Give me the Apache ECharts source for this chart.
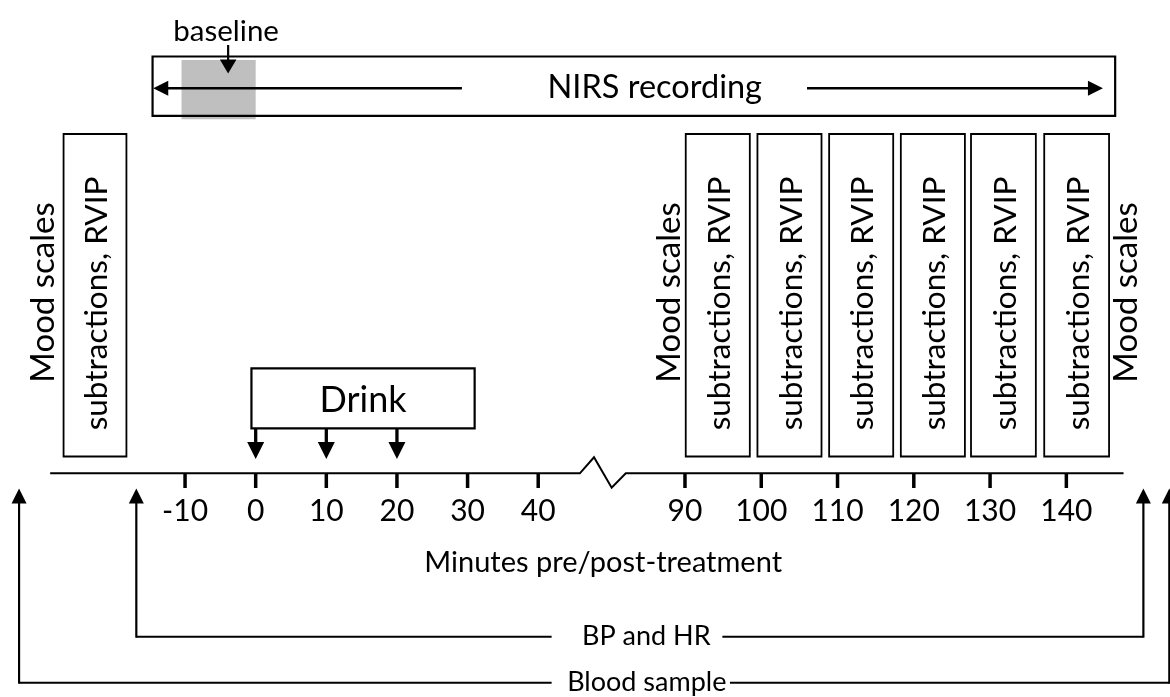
<!DOCTYPE html>
<html>
<head>
<meta charset="utf-8">
<title>Study timeline</title>
<script src="https://cdn.jsdelivr.net/npm/echarts@6/dist/echarts.min.js"></script>
<style>
  html, body { margin: 0; padding: 0; background: #fff; }
  #timeline { width: 1170px; height: 697px; }
</style>
</head>
<body>
<div id="timeline"></div>
<script>
// timeline data, minutes relative to the first drink
const tickMinutes = [-10, 0, 10, 20, 30, 40, 90, 100, 110, 120, 130, 140];
const tickLabels = ['-10', '0', '10', '20', '30', '40', '90', '100', '110', '120', '130', '140'];
const drinkDoses = [0, 10, 20];
const drinkWindow = [-0.6, 31.0];
const baselineWindow = [-10.5, 0];
const baselineMark = [-3.9];
const nirsWindow = [-14.6, 146.4];
const taskWindows = [[-27.2, -18.3], [90.1, 98.5], [99.5, 107.9], [108.9, 117.3], [118.3, 126.7], [127.5, 136.0], [137.1, 145.6]];
const moodMinutes = [-30.1, 88.0, 147.9];
const bpMinutes = [-16.9, 150.1];
const bloodMinutes = [-33.5, 153.5];
const measureLabels = ['BP and HR', 'Blood sample'];

// layout (rows are pixel rows, columns in axis units)
const L = {
  baseTextY: 31, baseArrowTop: 45, baseArrowTip: 73.5,
  nirsTop: 56.5, nirsBot: 115.8, nirsArrowY: 88.3, grayTop: 60, grayBot: 119.3,
  nirsLeftTip: -14.5, nirsLeftTail: 29.2, nirsRightTail: 106.0, nirsRightTip: 144.8, nirsTextX: 56.5,
  taskTop: 134, taskBot: 456.5, moodY: 292.5, taskTextY: 303.5,
  drinkTop: 368.3, drinkBot: 428.3, drinkTextY: 400, drinkTip: 459,
  axisY: 473.3, tickEnd: 488, tickLabelY: 511, axisStart: -29.1, axisEnd: 147.5,
  breakPts: [[45.9, 0], [47.9, -16], [50.4, 14.4], [52.4, 0]],
  titleX: 49.2, titleY: 563,
  rowY: [636.7, 682.7], arrowTip: 488.5,
  lineEndL: 41.9, lineStartR: [94.9, 95.9], textX: [46.2, 44.1]
};

// the axis is broken between 40 and 90 min; the right piece is drawn a bit wider
const POST_START = 60.78;
const POST_SCALE = 1.0799;
function tx(m) { return m < 65 ? m : POST_START + (m - 90) * POST_SCALE; }

const INK = '#000';
const FONT = 'Lato';

function pt(api, m, y) { return api.coord([tx(m), y]); }

function label(x, y, text, size, extra) {
  return Object.assign({
    type: 'text', x: x, y: y,
    style: { text: text, fill: INK, fontSize: size, fontFamily: FONT, align: 'center', verticalAlign: 'middle' }
  }, extra || {});
}

function line(a, b, w) {
  return { type: 'line', shape: { x1: a[0], y1: a[1], x2: b[0], y2: b[1] }, style: { stroke: INK, lineWidth: w } };
}

// shaft from a to b, head at b
function arrow(a, b, w, len, half) {
  const dx = b[0] - a[0], dy = b[1] - a[1];
  const d = Math.hypot(dx, dy), ux = dx / d, uy = dy / d;
  const bx = b[0] - ux * len, by = b[1] - uy * len;
  return [
    line(a, [bx + ux, by + uy], w),
    { type: 'polygon', shape: { points: [[b[0], b[1]], [bx - uy * half, by + ux * half], [bx + uy * half, by - ux * half]] }, style: { fill: INK } }
  ];
}

function box(p0, p1, w) {
  return {
    type: 'rect',
    shape: { x: p0[0], y: p0[1], width: p1[0] - p0[0], height: p1[1] - p0[1] },
    style: { fill: 'none', stroke: INK, lineWidth: w }
  };
}

const chart = echarts.init(document.getElementById('timeline'));

chart.setOption({
  animation: false,
  backgroundColor: '#fff',
  grid: { left: 0, right: 0, top: 0, bottom: 0 },
  xAxis: { type: 'value', min: -36.2, max: 129.45, show: false },
  yAxis: { type: 'value', min: 0, max: 697, inverse: true, show: false },
  series: [
    {
      // baseline window, grey
      type: 'custom', z: 1,
      data: [baselineWindow],
      renderItem: function (params, api) {
        const p0 = pt(api, api.value(0), L.grayTop);
        const p1 = pt(api, api.value(1), L.grayBot);
        return { type: 'rect', shape: { x: p0[0], y: p0[1], width: p1[0] - p0[0], height: p1[1] - p0[1] }, style: { fill: '#bfbfbf' } };
      }
    },
    {
      // NIRS recording
      type: 'custom', z: 2,
      data: [nirsWindow],
      renderItem: function (params, api) {
        const y = L.nirsArrowY;
        return {
          type: 'group',
          children: [
            box(pt(api, api.value(0), L.nirsTop), pt(api, api.value(1), L.nirsBot), 2.2)
          ].concat(
            arrow(pt(api, L.nirsLeftTail, y), pt(api, L.nirsLeftTip, y), 2.6, 15, 7.5),
            arrow(pt(api, L.nirsRightTail, y), pt(api, L.nirsRightTip, y), 2.6, 15, 7.5),
            [label(pt(api, L.nirsTextX, y)[0], y - 1, 'NIRS recording', 32.5)]
          )
        };
      }
    },
    {
      // baseline marker
      type: 'custom', z: 3,
      data: [baselineMark],
      renderItem: function (params, api) {
        const m = api.value(0);
        const x = pt(api, m, 0)[0];
        return {
          type: 'group',
          children: [label(x - 2, L.baseTextY, 'baseline', 29.5)].concat(
            arrow(pt(api, m, L.baseArrowTop), pt(api, m, L.baseArrowTip), 2.2, 14, 8.3)
          )
        };
      }
    },
    {
      // task blocks
      type: 'custom', z: 2,
      data: taskWindows,
      renderItem: function (params, api) {
        const p0 = pt(api, api.value(0), L.taskTop);
        const p1 = pt(api, api.value(1), L.taskBot);
        return {
          type: 'group',
          children: [
            box(p0, p1, 1.8),
            label((p0[0] + p1[0]) / 2 + 2, L.taskTextY, 'subtractions, RVIP', 31.5, { rotation: Math.PI / 2 })
          ]
        };
      }
    },
    {
      // mood scales
      type: 'custom', z: 2,
      data: moodMinutes.map(function (m) { return [m]; }),
      renderItem: function (params, api) {
        const p = pt(api, api.value(0), L.moodY);
        return label(p[0], p[1], 'Mood scales', 33, { rotation: Math.PI / 2 });
      }
    },
    {
      // drink box
      type: 'custom', z: 2,
      data: [drinkWindow],
      renderItem: function (params, api) {
        const p0 = pt(api, api.value(0), L.drinkTop);
        const p1 = pt(api, api.value(1), L.drinkBot);
        return {
          type: 'group',
          children: [box(p0, p1, 2.2), label((p0[0] + p1[0]) / 2, L.drinkTextY, 'Drink', 36)]
        };
      }
    },
    {
      // drink doses
      type: 'custom', z: 2,
      data: drinkDoses.map(function (m) { return [m]; }),
      renderItem: function (params, api) {
        const m = api.value(0);
        return { type: 'group', children: arrow(pt(api, m, L.drinkBot), pt(api, m, L.drinkTip), 3.3, 17, 8.5) };
      }
    },
    {
      // time axis with break
      type: 'custom', z: 2,
      data: [[L.axisStart, L.axisEnd]],
      renderItem: function (params, api) {
        const y = L.axisY;
        const pts = [pt(api, api.value(0), y)]
          .concat(L.breakPts.map(function (b) { return pt(api, b[0], y + b[1]); }))
          .concat([pt(api, api.value(1), y)]);
        const t = pt(api, L.titleX, L.titleY);
        return {
          type: 'group',
          children: [
            { type: 'polyline', shape: { points: pts }, style: { stroke: INK, lineWidth: 2, fill: 'none' } },
            label(t[0], t[1], 'Minutes pre/post-treatment', 29)
          ]
        };
      }
    },
    {
      // ticks + labels
      type: 'custom', z: 2,
      data: tickMinutes.map(function (m) { return [m]; }),
      renderItem: function (params, api) {
        const m = api.value(0);
        const a = pt(api, m, L.axisY);
        const b = pt(api, m, L.tickEnd);
        return {
          type: 'group',
          children: [line(a, b, 3.5), label(a[0], L.tickLabelY, tickLabels[params.dataIndex], 30)]
        };
      }
    },
    {
      // BP/HR and blood sample time points
      type: 'custom', z: 2,
      data: [bpMinutes, bloodMinutes],
      renderItem: function (params, api) {
        const i = params.dataIndex;
        const y = L.rowY[i];
        const m0 = api.value(0), m1 = api.value(1);
        const lx = pt(api, m0, y), rx = pt(api, m1, y);
        const t = pt(api, L.textX[i], y);
        return {
          type: 'group',
          children: [
            line(lx, pt(api, L.lineEndL, y), 2),
            line(pt(api, L.lineStartR[i], y), rx, 2),
            { type: 'text', x: t[0], y: y, style: { text: measureLabels[i], fill: INK, fontSize: 27, fontFamily: FONT, align: 'left', verticalAlign: 'middle' } }
          ].concat(
            arrow([lx[0], y + 1], [lx[0], L.arrowTip], 2.2, 15, 7.5),
            arrow([rx[0], y + 1], [rx[0], L.arrowTip], 2.2, 15, 7.5)
          )
        };
      }
    }
  ]
});
</script>
</body>
</html>
